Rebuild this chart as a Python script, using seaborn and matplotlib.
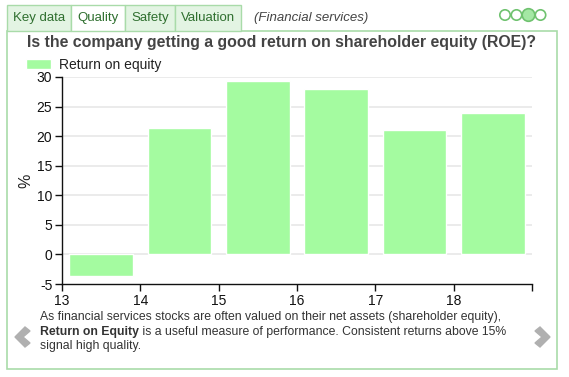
import matplotlib
matplotlib.use("Agg")
import matplotlib.pyplot as plt
import seaborn as sns
import pandas as pd
from matplotlib.patches import Rectangle, Polygon, Circle
from matplotlib.transforms import IdentityTransform

years = ["13", "14", "15", "16", "17", "18"]
roe = [-3.7, 21.4, 29.3, 28.0, 21.0, 23.9]
yticks = [-5, 0, 5, 10, 15, 20, 25, 30]
tabs = ["Key data", "Quality", "Safety", "Valuation"]

sns.set_theme(style="white")
plt.rcParams['font.family'] = ['Liberation Sans', 'DejaVu Sans']

W, H = 569, 377
fig = plt.figure(figsize=(W / 100, H / 100), dpi=100)
fig.patch.set_facecolor("white")

def fx(x):
    return x / W

def fy(y):
    return 1 - y / H

ax = fig.add_axes([fx(62), fy(284), fx(532) - fx(62), fy(77) - fy(284)])
df = pd.DataFrame({"year": years, "roe": roe})
bar_col = "#a4fba0"
sns.barplot(data=df, x="year", y="roe", color=bar_col, saturation=1, width=0.81,
            ax=ax, label="Return on equity", zorder=3)
ax.set_xlim(-0.5, len(years) - 0.5)
ax.set_ylim(-5, 30)
ax.set_yticks(yticks)
ax.set_yticklabels([str(v) for v in yticks])
ax.set_xticks([i - 0.5 for i in range(len(years) + 1)])
ax.set_xticklabels(years + [""])
ax.set_xlabel("")
ax.set_ylabel("%", fontsize=11.5, color="#222222")
ax.yaxis.set_label_coords((33 - 62) / 470, 0.5)
for v in yticks[1:]:
    ax.axhline(v, color="#e8e8e8", lw=1.2, zorder=1)
for s in ["top", "right"]:
    ax.spines[s].set_visible(False)
for s in ["left", "bottom"]:
    ax.spines[s].set_color("#111111")
    ax.spines[s].set_linewidth(1.0)
ax.tick_params(axis="both", which="both", length=5, width=1, color="#111111",
               labelsize=10, labelcolor="#111111", pad=2, left=True, bottom=True)
ax.set_facecolor("white")

leg = ax.legend(loc="upper left", bbox_to_anchor=(fx(20), fy(52)),
                bbox_transform=fig.transFigure, frameon=False, fontsize=10,
                handlelength=1.8, handleheight=0.7, handletextpad=0.6, borderaxespad=0)
for t in leg.get_texts():
    t.set_color("#222222")

# frame
green_border = "#a9dba9"
fig.patches.append(Rectangle((fx(7), fy(369)), fx(557) - fx(7), fy(31) - fy(369),
                             transform=fig.transFigure, fill=False, ec=green_border,
                             lw=1.2, zorder=0))
# tabs
tab_edges = [7, 71, 125, 175, 241]
for i, t in enumerate(tabs):
    x0, x1 = tab_edges[i], tab_edges[i + 1]
    fc = "white" if t == "Quality" else "#e3f4e3"
    fig.patches.append(Rectangle((fx(x0), fy(31)), fx(x1) - fx(x0), fy(5) - fy(31),
                                 transform=fig.transFigure, fc=fc, ec=green_border,
                                 lw=1.0, zorder=1))
    fig.text(fx((x0 + x1) / 2), fy(18), t, ha="center", va="center", fontsize=9.5,
             color="#2f6f2f")
fig.text(fx(254), fy(18), "(Financial services)", ha="left", va="center", fontsize=9.5,
         style="italic", color="#444444")
# circles (pixel coordinates, origin bottom-left)
for cx, r, filled in [(505, 5.2, False), (516.5, 5.2, False), (528.5, 6.3, True), (540.5, 5.2, False)]:
    fig.patches.append(Circle((cx, H - 15), r, transform=IdentityTransform(),
                              fc="#a4e8a4" if filled else "white", ec="#6fc26f", lw=1.2))

fig.text(fx(27), fy(42), "Is the company getting a good return on shareholder equity (ROE)?",
         ha="left", va="center", fontsize=11.4, fontweight="bold", color="#444444")

# description
fs = 8.8
fig.text(fx(40), fy(317), "As financial services stocks are often valued on their net assets (shareholder equity),",
         ha="left", va="center", fontsize=fs, color="#333333")
t1 = fig.text(fx(40), fy(332), "Return on Equity", ha="left", va="center", fontsize=fs,
              fontweight="bold", color="#333333")
fig.canvas.draw()
bb = t1.get_window_extent()
fig.text(bb.x1 / W, fy(332), " is a useful measure of performance. Consistent returns above 15%",
         ha="left", va="center", fontsize=fs, color="#333333")
fig.text(fx(40), fy(346), "signal high quality.", ha="left", va="center", fontsize=fs,
         color="#333333")

# arrows
def chevron(xtip, d):
    pts = [(xtip, 337), (xtip + d * 10, 327), (xtip + d * 15, 331),
           (xtip + d * 8, 337), (xtip + d * 15, 343), (xtip + d * 10, 347)]
    return Polygon([(fx(a), fy(b)) for a, b in pts], closed=True, transform=fig.transFigure,
                   fc="#b0b0b0", ec="#b0b0b0", lw=1)
fig.patches.append(chevron(15, 1))
fig.patches.append(chevron(550, -1))

fig.savefig("out.png", dpi=100, facecolor="white")
